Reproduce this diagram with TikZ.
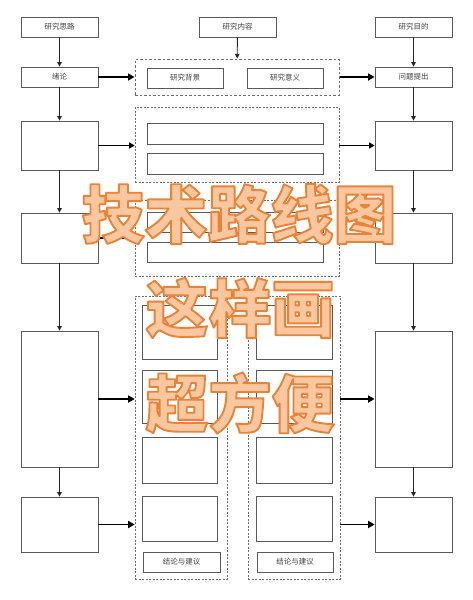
\documentclass[tikz,border=0pt]{standalone}
\usepackage{fontspec}
\newfontfamily\cjk{Noto Sans CJK SC}
\usetikzlibrary{arrows.meta}
\definecolor{boxline}{HTML}{5A5A5A}
\definecolor{dashline}{HTML}{6E6E6E}
\definecolor{orangefill}{HTML}{F9C8A0}
% fill-and-stroke text: light fill, orange outline
\newcommand\outlinedtext[1]{\special{pdf:literal 2 Tr 1.9 w 1 j 0.925 0.51 0.212 RG}#1\special{pdf:literal 0 Tr}}
\tikzset{
  box/.style={draw=boxline, line width=0.8pt, inner sep=0pt, fill=white,
    font=\cjk\fontsize{7.5}{9}\selectfont, text=black!75},
  dbox/.style={draw=dashline, line width=0.6pt, dash pattern=on 2pt off 1.5pt, inner sep=0pt},
  dboxthick/.style={draw=dashline, line width=1pt, dash pattern=on 2.5pt off 2pt, inner sep=0pt},
  varrow/.style={draw=black!85, line width=0.9pt, -{Triangle[length=4.5pt,width=4.5pt]}},
  harrow/.style={draw=black, line width=1.8pt, -{Triangle[length=6.5pt,width=7pt]}},
  marrow/.style={draw=black, line width=1.3pt, -{Triangle[length=5.5pt,width=6pt]}},
  bigtxt/.style={font=\cjk\bfseries\fontsize{63}{63}\selectfont, inner sep=0pt, text=orangefill}
}
\begin{document}
\begin{tikzpicture}[x=1pt,y=-1pt]
\fill[white] (0,0) rectangle (473,600);
\useasboundingbox (0,0) rectangle (473,600);

% top row
\node[box, minimum width=77pt, minimum height=20pt] (sl) at (59.5,27) {研究思路};
\node[box, minimum width=77pt, minimum height=20pt] (nr) at (237.5,27) {研究内容};
\node[box, minimum width=77pt, minimum height=20pt] (md) at (413.5,27) {研究目的};

% second row
\node[box, minimum width=77pt, minimum height=20pt] (xl) at (59.5,77) {绪论};
\node[dboxthick, minimum width=204pt, minimum height=36pt] (d1) at (237,77) {};
\node[box, minimum width=76pt, minimum height=20pt] (bj) at (185,78) {研究背景};
\node[box, minimum width=76pt, minimum height=20pt] (yy) at (285,78) {研究意义};
\node[box, minimum width=77pt, minimum height=20pt] (wt) at (413.5,77) {问题提出};

% third row
\node[box, minimum width=77pt, minimum height=49pt] (l2) at (59.5,145.5) {};
\node[box, minimum width=77pt, minimum height=49pt] (r2) at (413.5,145.5) {};
\node[dbox, minimum width=204pt, minimum height=75pt] (d2) at (237,144.5) {};
\node[box, minimum width=176pt, minimum height=21pt] (b1) at (235,133.5) {};
\node[box, minimum width=176pt, minimum height=21pt] (b2) at (235,163.5) {};

% fourth row
\node[box, minimum width=77pt, minimum height=50pt] (l3) at (59.5,238) {};
\node[box, minimum width=77pt, minimum height=50pt] (r3) at (413.5,238) {};
\node[dbox, minimum width=204pt, minimum height=76pt] (d3) at (237,238) {};
\node[box, minimum width=176pt, minimum height=20pt] (b3) at (235,222) {};
\node[box, minimum width=176pt, minimum height=20pt] (b4) at (235,252) {};

% fifth and sixth rows
\node[box, minimum width=77pt, minimum height=136pt] (l4) at (59.5,399) {};
\node[box, minimum width=77pt, minimum height=136pt] (r4) at (413.5,399) {};
\node[box, minimum width=77pt, minimum height=55pt] (l5) at (59.5,524.5) {};
\node[box, minimum width=77pt, minimum height=55pt] (r5) at (413.5,524.5) {};

% columns
\node[dbox, minimum width=92pt, minimum height=283pt] (c1) at (181,437.5) {};
\node[dbox, minimum width=92pt, minimum height=283pt] (c2) at (294,437.5) {};
\node[box, minimum width=75pt, minimum height=54pt] (c1a) at (180,332) {};
\node[box, minimum width=75pt, minimum height=53pt] (c1b) at (180,396.5) {};
\node[box, minimum width=75pt, minimum height=46pt] (c1c) at (180,460) {};
\node[box, minimum width=75pt, minimum height=45pt] (c1d) at (180,518.5) {};
\node[box, minimum width=77pt, minimum height=20pt] (c1e) at (181.5,562) {结论与建议};
\node[box, minimum width=76pt, minimum height=54pt] (c2a) at (294,332) {};
\node[box, minimum width=76pt, minimum height=53pt] (c2b) at (294,396.5) {};
\node[box, minimum width=76pt, minimum height=46pt] (c2c) at (294,460) {};
\node[box, minimum width=76pt, minimum height=45pt] (c2d) at (294,518.5) {};
\node[box, minimum width=76pt, minimum height=20pt] (c2e) at (295,562) {结论与建议};

% vertical arrows
\draw[varrow] (sl) -- (xl);
\draw[varrow] (nr) -- (d1);
\draw[varrow] (md) -- (wt);
\draw[varrow] (xl) -- (l2);
\draw[varrow] (l2) -- (l3);
\draw[varrow] (l3) -- (l4);
\draw[varrow] (l4) -- (l5);
\draw[varrow] (wt) -- (r2);
\draw[varrow] (r2) -- (r3);
\draw[varrow] (r3) -- (r4);
\draw[varrow] (r4) -- (r5);

% horizontal arrows
\draw[harrow] (xl.east) -- (xl.east -| d1.west);
\draw[harrow] (d1.east |- wt.west) -- (wt.west);
\draw[marrow] (l2.east) -- (l2.east -| d2.west);
\draw[marrow] (d2.east |- r2.west) -- (r2.west);
\draw[marrow] (l3.east) -- (l3.east -| d3.west);
\draw[marrow] (d3.east |- r3.west) -- (r3.west);
\draw[harrow] (l4.east) -- (l4.east -| c1.west);
\draw[harrow] (c2.east |- r4.west) -- (r4.west);
\draw[harrow] (l5.east) -- (l5.east -| c1.west);
\draw[harrow] (c2.east |- r5.west) -- (r5.west);

% big overlay titles
\node[bigtxt] (t1) at (239,214) {\outlinedtext{技术路线图}};
\node[bigtxt] (t2) at (240,308) {\outlinedtext{这样画}};
\node[bigtxt] (t3) at (240,403) {\outlinedtext{超方便}};
\end{tikzpicture}
\end{document}
